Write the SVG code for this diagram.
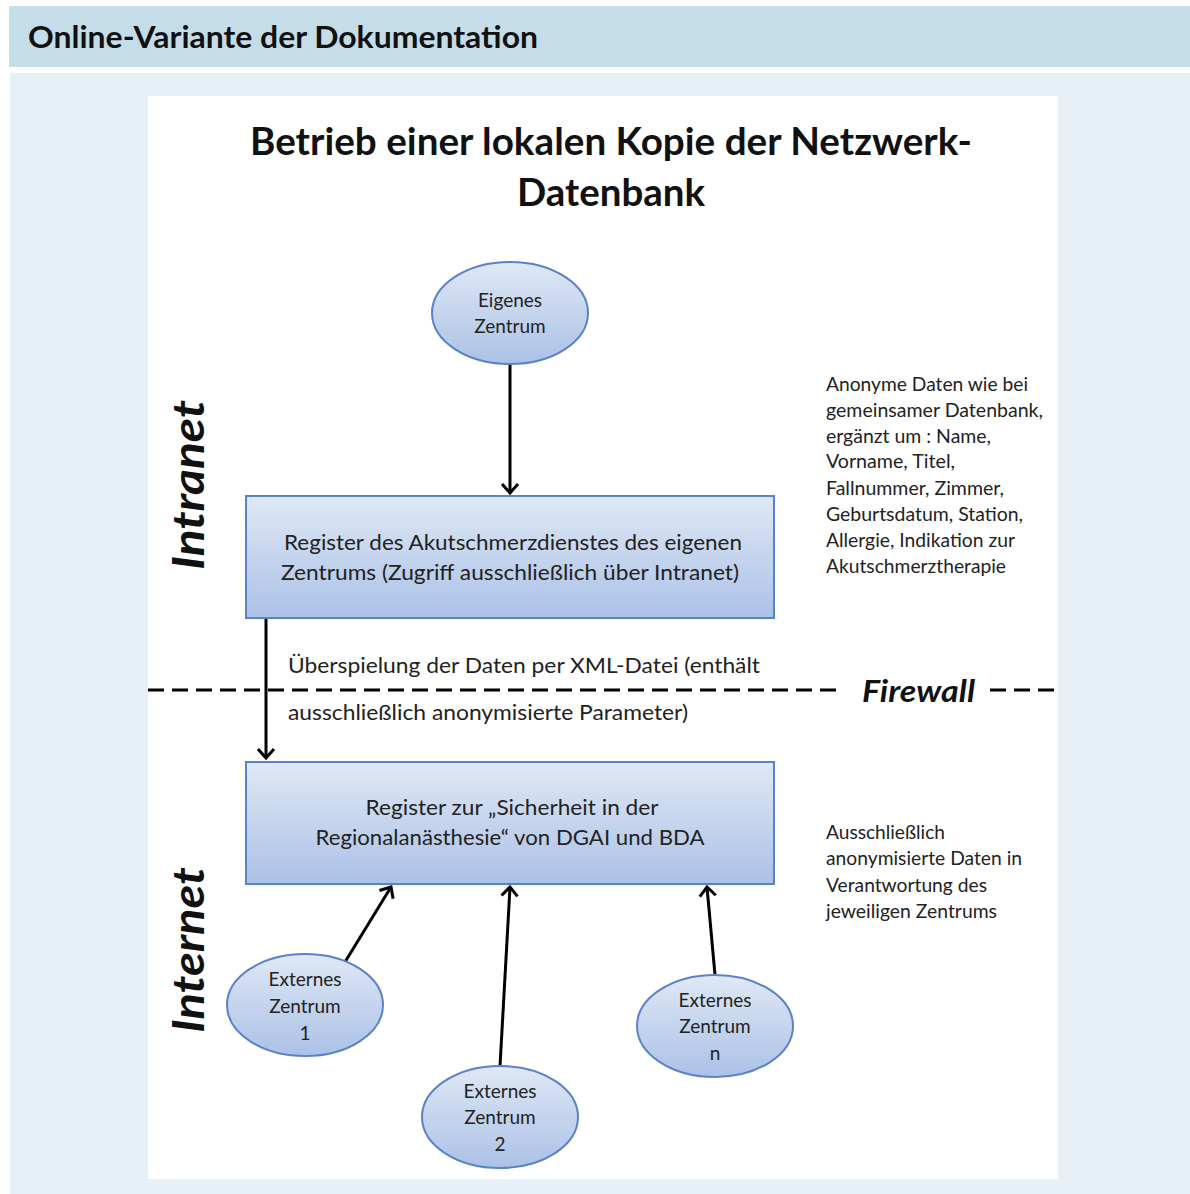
<svg xmlns="http://www.w3.org/2000/svg" width="1190" height="1194" viewBox="0 0 1190 1194">
<style>
text{font-family:Lato,"Open Sans","Liberation Sans",sans-serif}
.t{fill:#222}
.n{font-size:19px;text-anchor:middle}
.b{font-size:22px;text-anchor:middle}
.s{font-size:19px}
.tr{font-size:22px}
.side{font-weight:bold;font-style:italic;font-size:43px;fill:#111;text-anchor:middle}
.shape{stroke:#5b82c7;stroke-width:2}
.c{stroke:#000;stroke-width:3;fill:none}
</style>
<defs>
<linearGradient id="g" x1="0" y1="0" x2="0" y2="1">
<stop offset="0" stop-color="#dfe8f5"/>
<stop offset="1" stop-color="#abc1e6"/>
</linearGradient>
<marker id="a" viewBox="0 0 22 22" refX="11" refY="11" markerWidth="22" markerHeight="22" markerUnits="userSpaceOnUse" orient="auto">
<path d="M2,3 L11,11 L2,19" fill="none" stroke="#000" stroke-width="3"/>
</marker>
</defs>
<rect x="0" y="0" width="1190" height="1194" fill="#ffffff"/>
<rect x="9" y="6" width="1181" height="61" fill="#c5dde9"/>
<text x="28" y="48" font-weight="bold" font-size="30" fill="#111" textLength="510" lengthAdjust="spacingAndGlyphs">Online-Variante der Dokumentation</text>
<rect x="10" y="73" width="1180" height="1121" fill="#e8f0f7"/>
<rect x="148" y="96" width="910" height="1083" fill="#ffffff"/>
<text x="250" y="155" font-weight="bold" font-size="38" fill="#111" textLength="722" lengthAdjust="spacingAndGlyphs">Betrieb einer lokalen Kopie der Netzwerk-</text>
<text x="517" y="206" font-weight="bold" font-size="38" fill="#111" textLength="188" lengthAdjust="spacingAndGlyphs">Datenbank</text>
<text class="side" transform="translate(204,485) rotate(-90)" x="0" y="0" textLength="170" lengthAdjust="spacingAndGlyphs">Intranet</text>
<text class="side" transform="translate(204,950) rotate(-90)" x="0" y="0" textLength="166" lengthAdjust="spacingAndGlyphs">Internet</text>
<g id="connectors">
<line class="c" x1="510" y1="365" x2="510" y2="493" marker-end="url(#a)"/>
<line class="c" x1="266" y1="618" x2="266" y2="758" marker-end="url(#a)"/>
<line class="c" x1="345" y1="962" x2="391" y2="887" marker-end="url(#a)"/>
<line class="c" x1="500" y1="1066" x2="510" y2="887" marker-end="url(#a)"/>
<line class="c" x1="715" y1="975" x2="707" y2="887" marker-end="url(#a)"/>
</g>
<g id="firewall">
<line x1="148" y1="690" x2="840" y2="690" stroke="#000" stroke-width="3" stroke-dasharray="16,8"/>
<line x1="990" y1="690" x2="1058" y2="690" stroke="#000" stroke-width="3" stroke-dasharray="16,8"/>
<text x="862" y="702" font-weight="bold" font-style="italic" font-size="30" fill="#111" textLength="113" lengthAdjust="spacingAndGlyphs">Firewall</text>
</g>
<g id="transfer-label">
<text class="t tr" x="288" y="673" textLength="472" lengthAdjust="spacingAndGlyphs">Überspielung  der Daten per XML-Datei (enthält</text>
<text class="t tr" x="288" y="720" textLength="400" lengthAdjust="spacingAndGlyphs">ausschließlich anonymisierte Parameter)</text>
</g>
<g id="eigenes">
<ellipse class="shape" cx="510" cy="313" rx="78" ry="51" fill="url(#g)"/>
<text class="t n" x="510" y="307">Eigenes</text>
<text class="t n" x="510" y="333">Zentrum</text>
</g>
<g id="register-akut">
<rect class="shape" x="246" y="496" width="528" height="122" fill="url(#g)"/>
<text class="t b" x="513" y="550" textLength="458" lengthAdjust="spacingAndGlyphs">Register des Akutschmerzdienstes des eigenen</text>
<text class="t b" x="510" y="580" textLength="458" lengthAdjust="spacingAndGlyphs">Zentrums (Zugriff ausschließlich über Intranet)</text>
</g>
<g id="register-regional">
<rect class="shape" x="246" y="762" width="528" height="122" fill="url(#g)"/>
<text class="t b" x="512" y="815" textLength="293" lengthAdjust="spacingAndGlyphs">Register zur „Sicherheit in der</text>
<text class="t b" x="510" y="845" textLength="389" lengthAdjust="spacingAndGlyphs">Regionalanästhesie“ von DGAI und BDA</text>
</g>
<g id="ext1">
<ellipse class="shape" cx="305" cy="1005" rx="78" ry="51" fill="url(#g)"/>
<text class="t n" x="305" y="986">Externes</text>
<text class="t n" x="305" y="1013">Zentrum</text>
<text class="t n" x="305" y="1040">1</text>
</g>
<g id="ext2">
<ellipse class="shape" cx="500" cy="1117" rx="78" ry="51" fill="url(#g)"/>
<text class="t n" x="500" y="1098">Externes</text>
<text class="t n" x="500" y="1124">Zentrum</text>
<text class="t n" x="500" y="1151">2</text>
</g>
<g id="extn">
<ellipse class="shape" cx="715" cy="1026" rx="78" ry="51" fill="url(#g)"/>
<text class="t n" x="715" y="1007">Externes</text>
<text class="t n" x="715" y="1033">Zentrum</text>
<text class="t n" x="715" y="1060">n</text>
</g>
<g id="note-intranet">
<text class="t s" x="826" y="391" textLength="202" lengthAdjust="spacingAndGlyphs">Anonyme Daten wie bei</text>
<text class="t s" x="826" y="417" textLength="217" lengthAdjust="spacingAndGlyphs">gemeinsamer Datenbank,</text>
<text class="t s" x="826" y="443" textLength="165" lengthAdjust="spacingAndGlyphs">ergänzt um : Name,</text>
<text class="t s" x="826" y="468" textLength="129" lengthAdjust="spacingAndGlyphs">Vorname, Titel,</text>
<text class="t s" x="826" y="495" textLength="178" lengthAdjust="spacingAndGlyphs">Fallnummer, Zimmer,</text>
<text class="t s" x="826" y="521" textLength="197" lengthAdjust="spacingAndGlyphs">Geburtsdatum, Station,</text>
<text class="t s" x="826" y="547" textLength="189" lengthAdjust="spacingAndGlyphs">Allergie, Indikation zur</text>
<text class="t s" x="826" y="573" textLength="180" lengthAdjust="spacingAndGlyphs">Akutschmerztherapie</text>
</g>
<g id="note-internet">
<text class="t s" x="826" y="839" textLength="119" lengthAdjust="spacingAndGlyphs">Ausschließlich</text>
<text class="t s" x="826" y="865" textLength="196" lengthAdjust="spacingAndGlyphs">anonymisierte Daten in</text>
<text class="t s" x="826" y="892" textLength="161" lengthAdjust="spacingAndGlyphs">Verantwortung des</text>
<text class="t s" x="826" y="918" textLength="171" lengthAdjust="spacingAndGlyphs">jeweiligen Zentrums</text>
</g>
</svg>
